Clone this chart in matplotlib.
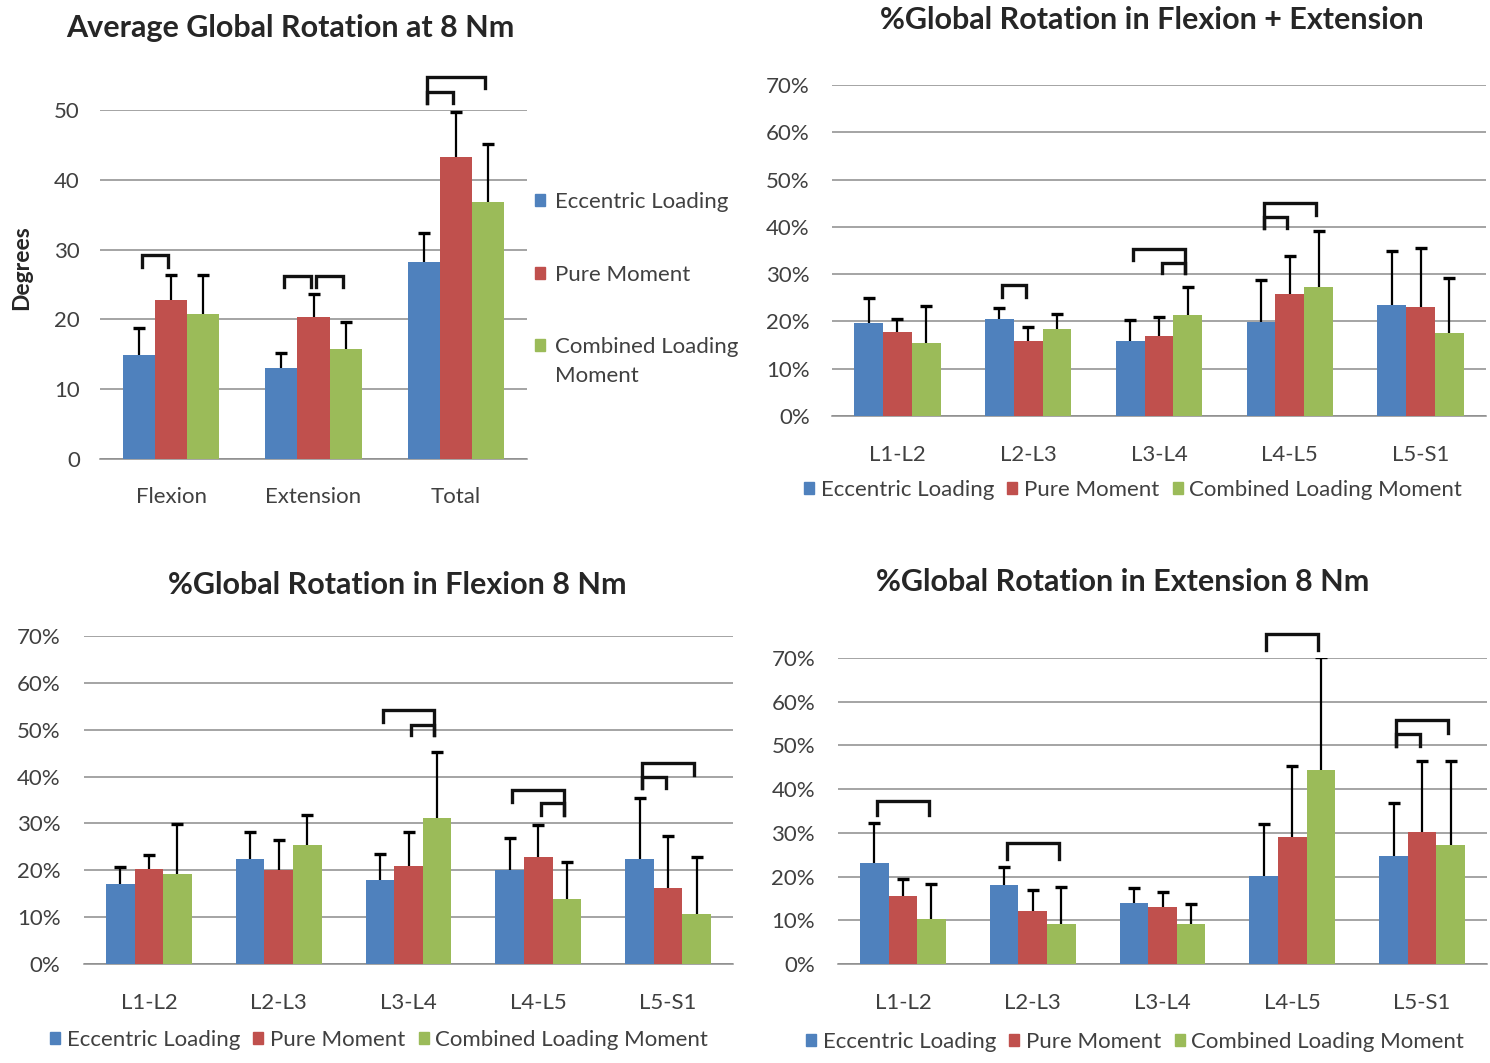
import matplotlib
matplotlib.use("Agg")
import matplotlib.pyplot as plt
import numpy as np
from matplotlib.ticker import FuncFormatter, MultipleLocator
from matplotlib.patches import Patch

plt.rcParams['font.family'] = ['Lato', 'DejaVu Sans']

series_names = ['Eccentric Loading', 'Pure Moment', 'Combined Loading Moment']
colors = ['#4F81BD', '#C0504D', '#9BBB59']

# Panel 1: average global rotation (degrees)
motions = ['Flexion', 'Extension', 'Total']
avg_ecc = [14.9, 13.0, 28.2]
avg_ecc_err = [3.9, 2.2, 4.2]
avg_pure = [22.8, 20.4, 43.3]
avg_pure_err = [3.6, 3.2, 6.4]
avg_comb = [20.8, 15.8, 36.8]
avg_comb_err = [5.6, 3.8, 8.3]

levels = ['L1-L2', 'L2-L3', 'L3-L4', 'L4-L5', 'L5-S1']
# Panel 2: % global rotation flexion + extension
fe_ecc = [19.6, 20.6, 15.9, 19.9, 23.5]
fe_ecc_err = [5.3, 2.3, 4.5, 8.9, 11.5]
fe_pure = [17.8, 15.9, 16.9, 25.9, 23.0]
fe_pure_err = [2.7, 3.0, 4.1, 7.9, 12.6]
fe_comb = [15.4, 18.5, 21.4, 27.3, 17.5]
fe_comb_err = [7.9, 3.1, 5.8, 11.9, 11.6]

# Panel 3: % global rotation flexion
fl_ecc = [17.0, 22.4, 18.0, 20.1, 22.4]
fl_ecc_err = [3.8, 5.8, 5.4, 6.7, 13.1]
fl_pure = [20.2, 20.1, 20.9, 22.9, 16.3]
fl_pure_err = [3.0, 6.4, 7.3, 6.8, 11.1]
fl_comb = [19.2, 25.3, 31.2, 13.8, 10.6]
fl_comb_err = [10.6, 6.5, 14.1, 7.9, 12.3]

# Panel 4: % global rotation extension
ex_ecc = [23.2, 18.0, 13.9, 20.2, 24.8]
ex_ecc_err = [9.1, 4.3, 3.5, 11.8, 12.0]
ex_pure = [15.6, 12.2, 13.0, 29.0, 30.3]
ex_pure_err = [3.8, 4.8, 3.4, 16.3, 16.1]
ex_comb = [10.3, 9.2, 9.2, 44.4, 27.2]
ex_comb_err = [8.0, 8.4, 4.6, 25.8, 19.2]

# significance brackets: (group, bar_a, bar_b, top, left_leg_end, right_leg_end)
br_avg = [(0, 0, 1, 29.2, 27.5, 27.5), (1, 0, 1, 26.2, 24.6, 24.6), (1, 1, 2, 26.2, 24.6, 24.6),
          (2, 0, 1, 52.6, 51.0, 51.0), (2, 0, 2, 54.7, 51.0, 53.2)]
br_fe = [(1, 0, 1, 27.8, 25.1, 25.1), (2, 0, 2, 35.3, 33.0, 30.2), (2, 1, 2, 32.3, 30.2, 30.2),
         (3, 0, 2, 45.0, 39.7, 42.5), (3, 0, 1, 42.1, 39.7, 39.7)]
br_fl = [(2, 0, 2, 54.2, 51.7, 48.8), (2, 1, 2, 51.1, 48.8, 48.8), (3, 0, 2, 37.1, 34.6, 31.8),
         (3, 1, 2, 34.3, 31.8, 31.8), (4, 0, 2, 42.8, 37.5, 40.3), (4, 0, 1, 40.0, 37.5, 37.5)]
br_ex = [(0, 0, 2, 37.3, 34.1, 34.1), (1, 0, 2, 27.6, 24.0, 24.0), (3, 0, 2, 75.4, 71.9, 71.9),
         (4, 0, 2, 55.8, 49.8, 52.9), (4, 0, 1, 52.6, 49.8, 49.8)]

W, H = 1490, 1063
fig = plt.figure(figsize=(W / 100, H / 100), dpi=100)
fig.patch.set_facecolor('white')

def ax_at(l, r, t, b):
    return fig.add_axes([l / W, 1 - b / H, (r - l) / W, (b - t) / H])

TXT = '#404040'
TITLE = '#262626'
GRID = '#8C8C8C'
FS = 16

def draw(ax, cats, vals, errs, brackets, ymax, step, width, pct, ypad, xpad):
    x = np.arange(len(cats))
    offs = [-width, 0, width]
    for i in range(3):
        ax.bar(x + offs[i], vals[i], width, color=colors[i], zorder=3, label=series_names[i])
        _, caps, _ = ax.errorbar(x + offs[i], vals[i], yerr=[np.zeros(len(cats)), errs[i]],
                                 fmt='none', ecolor='black', elinewidth=1.6, capsize=4.5,
                                 capthick=2.4, zorder=4)
        caps[0].set_visible(False)
    ax.set_xlim(-0.5, len(cats) - 0.5)
    ax.set_ylim(0, ymax)
    ax.yaxis.set_major_locator(MultipleLocator(step))
    if pct:
        ax.yaxis.set_major_formatter(FuncFormatter(lambda v, p: f'{v:.0f}%'))
    ax.grid(axis='y', color=GRID, lw=1.1, zorder=0)
    for s in ['top', 'right', 'left']:
        ax.spines[s].set_visible(False)
    ax.spines['bottom'].set_color(GRID)
    ax.spines['bottom'].set_linewidth(1.1)
    ax.spines['bottom'].set_zorder(1)
    ax.set_xticks(x)
    ax.set_xticklabels(cats)
    ax.tick_params(axis='both', length=0, labelsize=FS, labelcolor=TXT)
    ax.tick_params(axis='y', pad=ypad)
    ax.tick_params(axis='x', pad=xpad)
    ins = 0.02
    for g, a, b, top, la, lb in brackets:
        xa = g + offs[a] + ins
        xb = g + offs[b] - ins
        ax.plot([xa, xa, xb, xb], [la, top, top, lb], color='#111111', lw=2.4,
                clip_on=False, zorder=5, solid_joinstyle='miter')

# Panel 1
ax1 = ax_at(100, 527, 110, 459)
draw(ax1, motions, [avg_ecc, avg_pure, avg_comb], [avg_ecc_err, avg_pure_err, avg_comb_err],
     br_avg, 50, 10, 0.226, False, 14.5, 20)
fig.text(22 / W, 1 - 268 / H, 'Degrees', rotation=90, ha='center', va='center',
         fontsize=16.5, fontweight='bold', color=TITLE)
fig.text(290 / W, 1 - 28 / H, 'Average Global Rotation at 8 Nm', ha='center', va='center',
         fontsize=22, fontweight='bold', color=TITLE)
handles = [Patch(color=c) for c in colors]
leg1 = fig.legend(handles, ['Eccentric Loading', 'Pure Moment', 'Combined Loading'],
                  loc='upper left', bbox_to_anchor=(515 / W, 1 - 172 / H), frameon=False,
                  fontsize=FS, labelcolor=TXT, handlelength=0.45, handleheight=0.45,
                  handletextpad=0.45, labelspacing=2.37)

# Panel 2
ax2 = ax_at(832, 1486, 85, 416)
draw(ax2, levels, [fe_ecc, fe_pure, fe_comb], [fe_ecc_err, fe_pure_err, fe_comb_err],
     br_fe, 70, 10, 0.22, True, 16, 21)
fig.text(1152 / W, 1 - 20 / H, '%Global Rotation in Flexion + Extension', ha='center', va='center',
         fontsize=22, fontweight='bold', color=TITLE)

# Panel 3
ax3 = ax_at(84, 733, 636, 964)
draw(ax3, levels, [fl_ecc, fl_pure, fl_comb], [fl_ecc_err, fl_pure_err, fl_comb_err],
     br_fl, 70, 10, 0.22, True, 17, 21)
fig.text(397 / W, 1 - 585 / H, '%Global Rotation in Flexion 8 Nm', ha='center', va='center',
         fontsize=22, fontweight='bold', color=TITLE)

# Panel 4
ax4 = ax_at(838, 1487, 658, 964)
draw(ax4, levels, [ex_ecc, ex_pure, ex_comb], [ex_ecc_err, ex_pure_err, ex_comb_err],
     br_ex, 70, 10, 0.22, True, 16.5, 21)
fig.text(1123 / W, 1 - 582 / H, '%Global Rotation in Extension 8 Nm', ha='center', va='center',
         fontsize=22, fontweight='bold', color=TITLE)

leg_kw = dict(loc='center', frameon=False, ncol=3, fontsize=FS, labelcolor=TXT,
              handlelength=0.45, handleheight=0.45, handletextpad=0.3, columnspacing=0.6)
fig.legend(handles, series_names, bbox_to_anchor=(1133 / W, 1 - 490 / H), **leg_kw)
fig.legend(handles, series_names, bbox_to_anchor=(379 / W, 1 - 1040 / H), **leg_kw)
fig.legend(handles, series_names, bbox_to_anchor=(1135 / W, 1 - 1042 / H), **leg_kw)

# continuation line of the wrapped third legend label in panel 1
fig.canvas.draw()
t3 = leg1.get_texts()[2]
bb = t3.get_window_extent()
fig.text(bb.x0 / W, (bb.y0 - 29) / H, 'Moment', ha='left', va='bottom', fontsize=FS, color=TXT)

fig.savefig('out.png', dpi=100, facecolor='white')
